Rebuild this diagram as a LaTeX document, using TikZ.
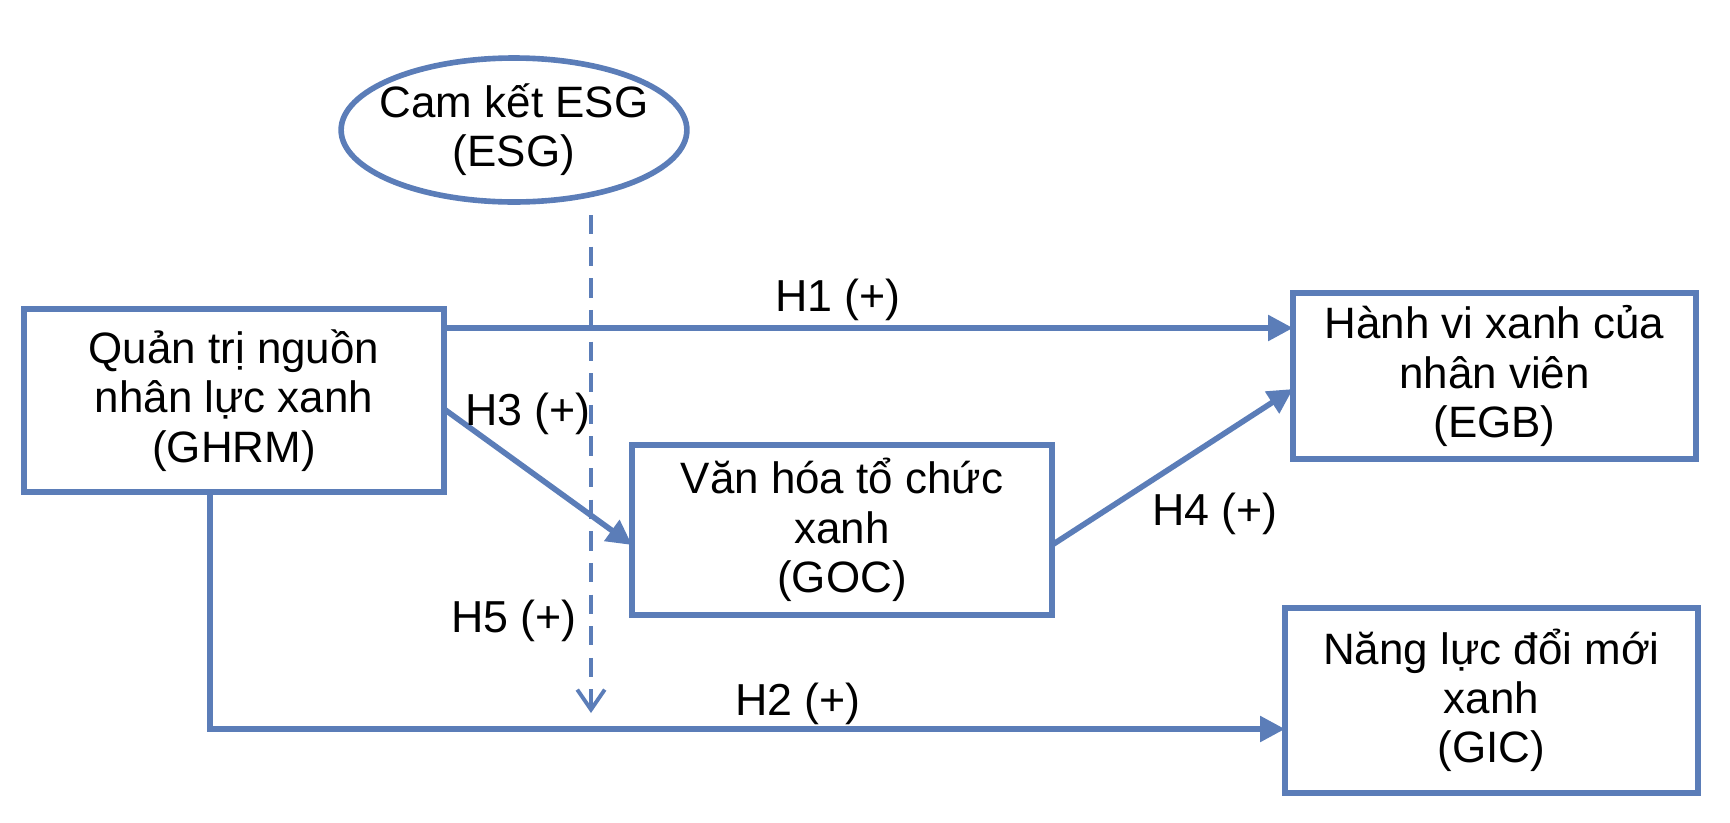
\documentclass[tikz,border=0pt]{standalone}
\usepackage{fontspec}
\setmainfont{Liberation Sans}
\usetikzlibrary{arrows.meta, positioning, shapes.geometric}
\definecolor{linkblue}{RGB}{91,125,184}
\tikzset{
  box/.style={draw=linkblue, line width=3.2pt, align=center, font=\fontsize{25}{28}\selectfont, inner sep=0pt},
  link/.style={draw=linkblue, line width=3.2pt, -{Triangle[length=0.5cm, width=0.5cm]}},
  modlink/.style={draw=linkblue, line width=2.2pt, dash pattern=on 11pt off 7pt, -{Straight Barb[length=0.4cm, width=0.55cm, line width=2.2pt]}},
  lbl/.style={font=\fontsize{25.5}{28}\selectfont}
}
\begin{document}
\begin{tikzpicture}[x=0.02cm, y=-0.02cm]
\useasboundingbox (0,0) rectangle (1730,822);

\node[box, minimum width=8.4cm, minimum height=3.66cm] (ghrm) at (234,400.5) {Quản trị nguồn\\nhân lực xanh\\(GHRM)};
\node[box, minimum width=8.06cm, minimum height=3.32cm] (egb) at (1494.5,376) {Hành vi xanh của\\nhân viên\\(EGB)};
\node[box, minimum width=8.4cm, minimum height=3.4cm] (goc) at (842,530) {Văn hóa tổ chức\\xanh\\(GOC)};
\node[box, minimum width=8.26cm, minimum height=3.7cm] (gic) at (1491.5,700.5) {Năng lực đổi mới\\xanh\\(GIC)};
\node[box, ellipse, inner xsep=-0.24cm, minimum width=6.1cm, minimum height=2.88cm] (esg) at (514,130) {Cam kết ESG\\(ESG)};

% paths
\coordinate (h1s) at (444,328);
\coordinate (h1e) at (1293,328);
\coordinate (h3s) at (444,409);
\coordinate (h3e) at (632,545);
\coordinate (h4s) at (1052,545);
\coordinate (h4e) at (1293,389);
\coordinate (h2s) at (210,492);
\coordinate (h2c) at (210,729);
\coordinate (h2e) at (1285,729);
\coordinate (h5s) at (591,215);
\coordinate (h5e) at (591,713);

\draw[link] (h1s) -- (h1e);
\draw[link] (h3s) -- (h3e);
\draw[link] (h4s) -- (h4e);
\draw[link] (h2s) -- (h2c) -- (h2e);
\draw[modlink] (h5s) -- (h5e);

\node[lbl] (lh1) at (838,300) {H1 (+)};
\node[lbl] (lh3) at (528,414) {H3 (+)};
\node[lbl] (lh4) at (1215,514) {H4 (+)};
\node[lbl] (lh5) at (514,621) {H5 (+)};
\node[lbl] (lh2) at (798,704) {H2 (+)};
\end{tikzpicture}
\end{document}
